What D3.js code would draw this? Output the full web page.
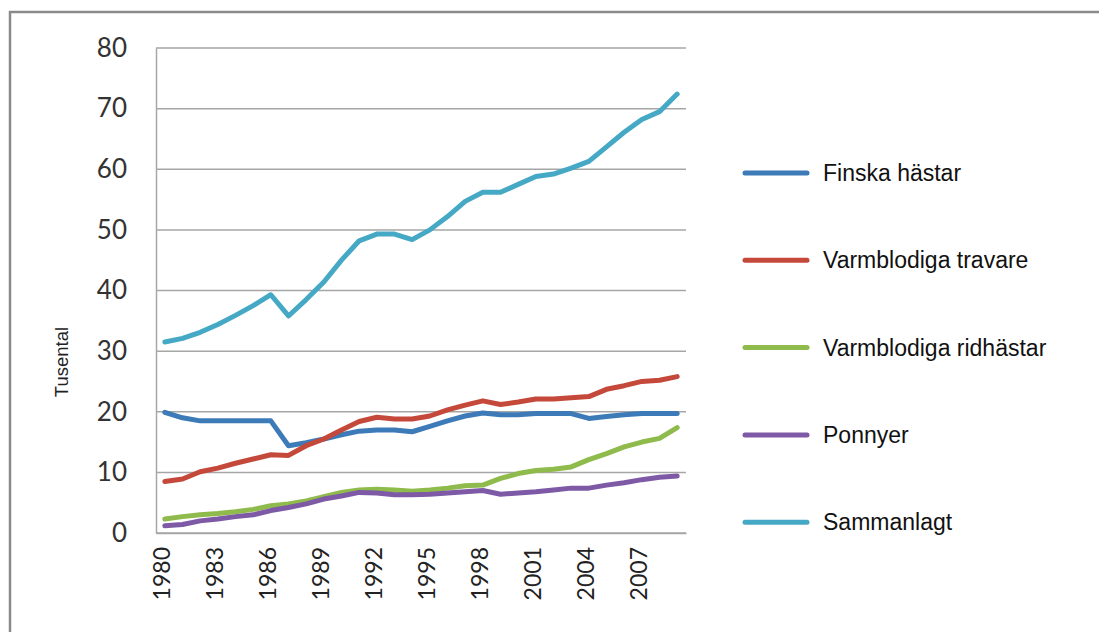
<!DOCTYPE html>
<html>
<head>
<meta charset="utf-8">
<script src="https://cdn.jsdelivr.net/npm/d3@7"></script>
<style>
  body { margin: 0; background: #fff; }
  svg { display: block; }
</style>
</head>
<body>
<svg></svg>
<script>
// years 1980-2009, values in thousands (Tusental)
let years = d3.range(1980, 2010);
let yTicks = [0, 10, 20, 30, 40, 50, 60, 70, 80];
let xTickYears = [1980, 1983, 1986, 1989, 1992, 1995, 1998, 2001, 2004, 2007];

let seriesNames = ['Finska hästar', 'Varmblodiga travare', 'Varmblodiga ridhästar', 'Ponnyer', 'Sammanlagt'];

let finska = [19.9, 19.0, 18.5, 18.5, 18.5, 18.5, 18.5, 14.4, 14.9, 15.5,
              16.2, 16.8, 17.0, 17.0, 16.7, 17.6, 18.5, 19.3, 19.8, 19.5,
              19.5, 19.7, 19.7, 19.7, 18.9, 19.2, 19.5, 19.7, 19.7, 19.7];
let travare = [8.5, 8.9, 10.1, 10.7, 11.5, 12.2, 12.9, 12.8, 14.4, 15.5,
               17.0, 18.4, 19.1, 18.8, 18.8, 19.3, 20.3, 21.1, 21.8, 21.2,
               21.6, 22.1, 22.1, 22.3, 22.5, 23.7, 24.3, 25.0, 25.2, 25.8];
let ridhastar = [2.3, 2.7, 3.0, 3.2, 3.5, 3.9, 4.5, 4.8, 5.3, 6.0,
                 6.7, 7.1, 7.2, 7.1, 6.9, 7.1, 7.4, 7.8, 7.9, 9.0,
                 9.8, 10.3, 10.5, 10.9, 12.1, 13.1, 14.2, 15.0, 15.6, 17.4];
let ponnyer = [1.2, 1.4, 2.0, 2.3, 2.7, 3.0, 3.7, 4.2, 4.8, 5.6,
               6.1, 6.7, 6.6, 6.3, 6.3, 6.4, 6.6, 6.8, 7.0, 6.4,
               6.6, 6.8, 7.1, 7.4, 7.4, 7.9, 8.3, 8.8, 9.2, 9.4];
let sammanlagt = [31.5, 32.1, 33.1, 34.4, 35.9, 37.5, 39.3, 35.8, 38.5, 41.4,
                  45.0, 48.2, 49.3, 49.3, 48.4, 50.0, 52.2, 54.7, 56.2, 56.2,
                  57.5, 58.8, 59.2, 60.2, 61.3, 63.7, 66.1, 68.2, 69.5, 72.4];

let colors = ['#3d7ab8', '#c4493b', '#8fba4c', '#7e5aa6', '#45a9c5'];

let width = 1099;
let height = 632;

let plotLeft = 156, plotRight = 686, plotTop = 48, plotBottom = 533;

const svg = d3.select('svg')
              .attr('width', width)
              .attr('height', height);

// outer frame
svg.append('path')
   .attr('d', 'M10,' + height + ' V12 H' + width)
   .attr('fill', 'none')
   .attr('stroke', '#8a8a8a')
   .attr('stroke-width', 2.5);

let xScale = d3.scaleBand()
               .domain(years)
               .range([plotLeft, plotRight])
               .padding(0);

let yScale = d3.scaleLinear()
               .domain([0, 80])
               .range([plotBottom, plotTop]);

let xPos = (y) => xScale(y) + xScale.bandwidth() / 2;

// gridlines
svg.append('g')
   .selectAll('line')
   .data(yTicks)
   .enter()
   .append('line')
   .attr('x1', plotLeft)
   .attr('x2', plotRight)
   .attr('y1', (d) => yScale(d))
   .attr('y2', (d) => yScale(d))
   .attr('stroke', '#a6a6a6')
   .attr('stroke-width', 1.5);

// y axis
let yAxis = d3.axisLeft(yScale).tickValues(yTicks).tickSize(0).tickPadding(29);
let yg = svg.append('g')
   .attr('transform', 'translate(' + plotLeft + ',0)')
   .call(yAxis);
yg.select('.domain').attr('stroke', '#a6a6a6').attr('stroke-width', 1.5);
yg.selectAll('text')
  .attr('font-family', 'Lato, "Open Sans", sans-serif')
  .attr('font-size', 26)
  .attr('fill', '#333');

// x axis
let xAxis = d3.axisBottom(xScale).tickValues(xTickYears).tickSize(0);
let xg = svg.append('g')
   .attr('transform', 'translate(0,' + plotBottom + ')')
   .call(xAxis);
xg.select('.domain').attr('stroke', '#a6a6a6').attr('stroke-width', 1.5);
xg.selectAll('text')
  .attr('font-family', 'Lato, "Open Sans", sans-serif')
  .attr('font-size', 23)
  .attr('fill', '#222')
  .attr('text-anchor', 'end')
  .attr('transform', 'rotate(-90)')
  .attr('x', -14)
  .attr('y', -3)
  .attr('dy', '0.35em');

// axis title
svg.append('text')
   .attr('transform', 'translate(68,362) rotate(-90)')
   .attr('text-anchor', 'middle')
   .attr('font-family', '"Liberation Sans", Arial, sans-serif')
   .attr('font-size', 18.5)
   .attr('fill', '#222')
   .text('Tusental');

let allSeries = [finska, travare, ridhastar, ponnyer, sammanlagt];

let line = d3.line()
             .x((d, i) => xPos(years[i]))
             .y((d) => yScale(d));

svg.append('g')
   .selectAll('path')
   .data(allSeries)
   .enter()
   .append('path')
   .attr('d', (d) => line(d))
   .attr('fill', 'none')
   .attr('stroke', (d, i) => colors[i])
   .attr('stroke-width', 5)
   .attr('stroke-linejoin', 'round')
   .attr('stroke-linecap', 'round');

// legend
let legend = svg.append('g')
                .selectAll('g')
                .data(seriesNames)
                .enter()
                .append('g')
                .attr('transform', (d, i) => 'translate(745,' + (173 + i * 87.3) + ')');

legend.append('line')
      .attr('x1', 0)
      .attr('x2', 62)
      .attr('stroke', (d, i) => colors[i])
      .attr('stroke-width', 5)
      .attr('stroke-linecap', 'round');

legend.append('text')
      .attr('x', 78)
      .attr('dy', '0.35em')
      .attr('font-family', '"Liberation Sans", Arial, sans-serif')
      .attr('font-size', 23)
      .attr('fill', '#111')
      .text((d) => d);
</script>
</body>
</html>
